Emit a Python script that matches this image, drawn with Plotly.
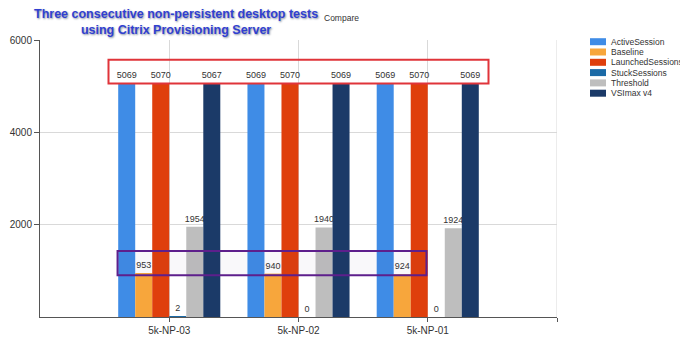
import plotly.graph_objects as go

categories = ["5k-NP-03", "5k-NP-02", "5k-NP-01"]
cat_pos = [1, 2, 3]
active_session = [5069, 5069, 5069]
baseline = [953, 940, 924]
launched_sessions = [5070, 5070, 5070]
stuck_sessions = [2, 0, 0]
threshold = [1954, 1940, 1924]
vsimax_v4 = [5067, 5069, 5069]

series_names = ["ActiveSession", "Baseline", "LaunchedSessions", "StuckSessions", "Threshold", "VSImax v4"]
series_values = [active_session, baseline, launched_sessions, stuck_sessions, threshold, vsimax_v4]
series_colors = ["#3F8CE6", "#F7A63C", "#DF3F0C", "#1B6AA6", "#BEBEBE", "#1B3A68"]

# page offset (default body margin of the html page)
OFF = 8
W, H = 688 - OFF, 356 - OFF
# plot area in screen pixels: left 40, top 40, right 557, bottom 317
ML, MT = 40 - OFF, 40 - OFF
PW, PH = 517, 277
MR = W - ML - PW
MB = H - MT - PH


def px_x(x):
    # screen x -> paper
    return (x - 40) / PW


def px_y(y):
    # screen y -> paper
    return (317 - y) / PH


fig = go.Figure()
for name, vals, color in zip(series_names, series_values, series_colors):
    fig.add_trace(go.Bar(
        x=cat_pos, y=vals, name=name, marker_color=color, marker_line_width=0,
        text=[str(v) for v in vals], textposition="outside", constraintext="none",
        textfont=dict(size=9, color="#333333", family="Liberation Sans"),
        cliponaxis=False, showlegend=False,
    ))

# highlight boxes
fig.add_shape(type="rect", xref="x", yref="y", x0=0.53, x1=3.47, y0=5060, y1=5570,
              line=dict(color="#E0343A", width=2), fillcolor="rgba(255,255,255,0)", layer="above")
fig.add_shape(type="rect", xref="x", yref="y", x0=0.6, x1=2.99, y0=905, y1=1430,
              line=dict(color="#5E1F8C", width=2), fillcolor="rgba(50,20,80,0.03)", layer="above")
# right border
fig.add_shape(type="line", xref="x", yref="paper", x0=4, x1=4, y0=0, y1=1,
              line=dict(color="#D9D9D9", width=1), layer="below")

# legend (drawn manually to match the compact spacing)
leg_top = 41.7
leg_step = 10.3
for i, (name, color) in enumerate(zip(series_names, series_colors)):
    cy = leg_top + i * leg_step
    fig.add_shape(type="rect", xref="paper", yref="paper",
                  x0=px_x(590), x1=px_x(606), y0=px_y(cy + 3.5), y1=px_y(cy - 3.5),
                  fillcolor=color, line=dict(width=0))
    fig.add_annotation(text=name, xref="paper", yref="paper", x=px_x(609), y=px_y(cy),
                       xanchor="left", yanchor="middle", showarrow=False,
                       font=dict(size=8.5, color="#333333", family="Liberation Sans"))

fig.add_annotation(text="<b>Three consecutive non-persistent desktop tests<br>using Citrix Provisioning Server</b>",
                   xref="paper", yref="paper", x=px_x(176), y=px_y(22), xanchor="center", yanchor="middle",
                   showarrow=False,
                   font=dict(size=12.5, color="#3040D0", family="Liberation Sans",
                             shadow="1px 1px 2px #8890A0"))
fig.add_annotation(text="Compare", xref="paper", yref="paper", x=px_x(341), y=px_y(18),
                   xanchor="center", yanchor="middle", showarrow=False,
                   font=dict(size=8.5, color="#333333", family="Liberation Sans"))

fig.update_layout(
    width=W, height=H,
    margin=dict(l=ML, r=MR, t=MT, b=MB, autoexpand=False),
    paper_bgcolor="white", plot_bgcolor="white",
    barmode="group", bargap=0.21, bargroupgap=0,
    font=dict(family="Liberation Sans", size=10, color="#333333"),
    showlegend=False,
    xaxis=dict(range=[0, 4], tickvals=[1, 2, 3, 4], ticktext=categories + [""],
               showgrid=True, gridcolor="#D9D9D9", gridwidth=1,
               showline=True, linecolor="#555555", linewidth=1,
               ticks="outside", ticklen=4, tickcolor="#555555",
               tickfont=dict(size=10), zeroline=False),
    yaxis=dict(range=[0, 6000], tickvals=[2000, 4000, 6000],
               showgrid=True, gridcolor="#D9D9D9", gridwidth=1,
               showline=True, linecolor="#555555", linewidth=1,
               ticks="outside", ticklen=5, tickcolor="#555555",
               tickfont=dict(size=10), zeroline=False),
)

fig.write_html("out.html")
